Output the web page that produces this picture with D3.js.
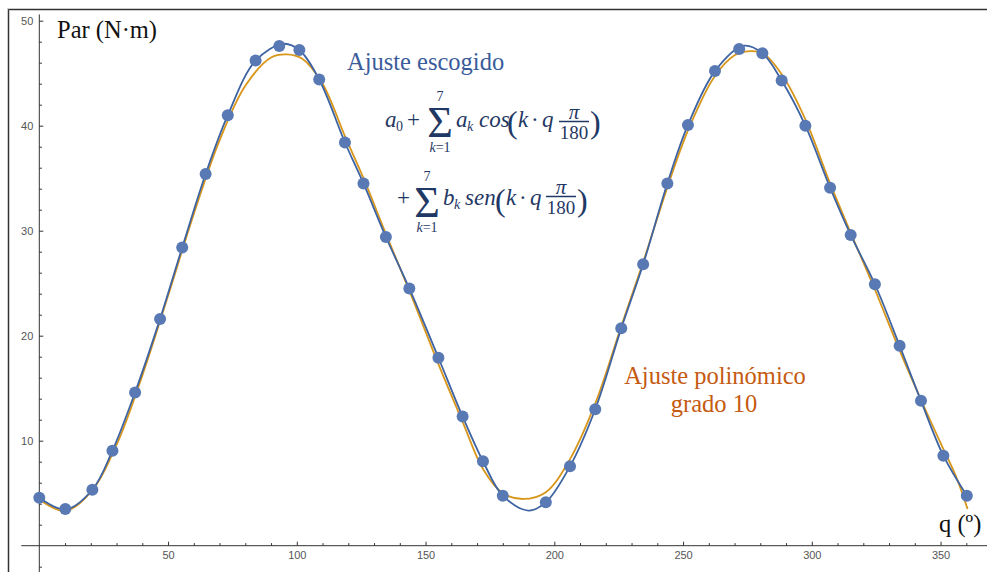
<!DOCTYPE html>
<html>
<head>
<meta charset="utf-8">
<script src="https://cdn.jsdelivr.net/npm/d3@7"></script>
<style>
  body { margin: 0; background: #fff; }
  svg { display: block; }
  .tick text { font-family: "Liberation Sans", Arial, sans-serif; font-size: 11px; fill: #555; }
  .tick line { stroke: #333; }
  .lbl { font-family: "Liberation Serif", "DejaVu Serif", serif; }
  .math { font-family: "Liberation Serif", "DejaVu Serif", serif; fill: #1f3864; }
</style>
</head>
<body>
<div class="graphHolder"></div>
<script>
let w = 987,
  h = 572;

// measured points (angle q in degrees, torque in N·m)
let qData = [0, 10.1, 20.6, 28.4, 37.2, 46.9, 55.5, 64.6, 73.2, 84.0, 93.2, 101.0, 108.7, 118.7,
  125.9, 134.6, 143.7, 155.0, 164.4, 172.3, 180.0, 196.7, 206.1, 215.9, 226.0, 234.5, 243.9,
  251.9, 262.4, 271.8, 280.8, 288.3, 297.5, 307.1, 315.1, 324.5, 334.1, 342.4, 351.1, 360.2];
let parData = [4.57, 3.5, 5.33, 9.05, 14.6, 21.6, 28.4, 35.4, 41.0, 46.2, 47.6, 47.2, 44.4, 38.4,
  34.5, 29.4, 24.5, 17.9, 12.3, 8.04, 4.76, 4.13, 7.56, 13.0, 20.7, 26.8, 34.5,
  40.07, 45.2, 47.3, 46.9, 44.3, 40.0, 34.1, 29.6, 24.9, 19.05, 13.8, 8.57, 4.76];

// fourier fit curve
let fourierQ = [0, 10.1, 20.6, 28.4, 37.2, 46.9, 55.5, 64.6, 73.2, 84.0, 94.8, 101.0, 108.7, 118.7,
  125.9, 134.6, 143.7, 155.0, 164.4, 172.3, 180.0, 189.9, 196.7, 206.1, 215.9, 226.0, 234.5, 243.9,
  251.9, 262.4, 273.4, 280.8, 288.3, 297.5, 307.1, 315.1, 324.5, 334.1, 342.4, 351.1, 360.2];
let fourierPar = [4.57, 3.45, 5.33, 9.05, 14.6, 21.6, 28.4, 35.4, 41.0, 46.2, 47.8, 47.2, 44.4, 38.4,
  34.5, 29.4, 24.5, 17.9, 12.3, 8.04, 4.76, 3.35, 4.13, 7.56, 13.0, 20.7, 26.8, 34.5,
  40.07, 45.2, 47.6, 46.9, 44.3, 40.0, 34.1, 29.6, 24.9, 19.05, 13.8, 8.57, 4.76];

// polynomial (degree 10) fit curve
let polyQ = [0, 10, 20, 30, 40, 50, 60, 70, 80, 90, 96, 102, 110, 118.7, 125.9, 134.6, 143.7,
  155, 164.4, 172.3, 180, 188, 196.7, 206, 216, 226, 234.5, 244, 252, 262, 270, 276, 281,
  288.3, 297.5, 307.1, 315.1, 324.5, 334.1, 342.4, 351.1, 356, 360.5];
let polyPar = [4.4, 3.3, 5.1, 9.6, 16.2, 23.8, 31.6, 38.6, 43.8, 46.5, 46.8, 46.4, 44.0, 39.0, 35.0, 29.7, 24.3,
  17.3, 11.8, 7.3, 5.0, 4.45, 5.1, 8.2, 13.6, 20.9, 27.0, 34.2, 39.6, 44.6, 46.7, 47.1, 46.9,
  44.9, 40.6, 34.5, 29.8, 24.4, 18.6, 13.9, 9.2, 6.6, 3.5];

let xMajor = [50, 100, 150, 200, 250, 300, 350],
  xMinor = [10, 20, 30, 40, 60, 70, 80, 90, 110, 120, 130, 140, 160, 170, 180, 190, 210, 220, 230, 240,
    260, 270, 280, 290, 310, 320, 330, 340, 360],
  yMajor = [10, 20, 30, 40, 50],
  yMinor = [-2, 2, 4, 6, 8, 12, 14, 16, 18, 22, 24, 26, 28, 32, 34, 36, 38, 42, 44, 46, 48];

let svg = d3.select(".graphHolder")
  .append("svg")
  .attr("width", w)
  .attr("height", h);

// frame
svg.append("path")
  .attr("d", "M8.5," + h + "V9.5H" + w)
  .attr("fill", "none")
  .attr("stroke", "#bbb")
  .attr("stroke-width", 2.5);
svg.append("path")
  .attr("d", "M8.5," + h + "V9.5H" + w)
  .attr("fill", "none")
  .attr("stroke", "#333")
  .attr("stroke-width", 1);

let xScale = d3.scaleLinear()
  .domain([0, 360])
  .range([39.3, 966.3]);

let yScale = d3.scaleLinear()
  .domain([0, 50])
  .range([545.7, 20.7]);

// axis lines, longer than the domain
svg.append("line")
  .attr("x1", xScale(-7)).attr("x2", w)
  .attr("y1", yScale(0)).attr("y2", yScale(0))
  .attr("stroke", "#333");
svg.append("line")
  .attr("x1", xScale(0)).attr("x2", xScale(0))
  .attr("y1", yScale(50.6)).attr("y2", h)
  .attr("stroke", "#333");

let xAxis = svg.append("g")
  .attr("transform", "translate(0," + yScale(0) + ")")
  .call(d3.axisBottom(xScale).tickValues(xMajor).tickSize(-4).tickPadding(6));
let xAxisMinor = svg.append("g")
  .attr("transform", "translate(0," + yScale(0) + ")")
  .call(d3.axisBottom(xScale).tickValues(xMinor).tickSize(-2.6).tickFormat(""));

let yAxis = svg.append("g")
  .attr("transform", "translate(" + xScale(0) + ",0)")
  .call(d3.axisLeft(yScale).tickValues(yMajor).tickSize(-4).tickPadding(6));
let yAxisMinor = svg.append("g")
  .attr("transform", "translate(" + xScale(0) + ",0)")
  .call(d3.axisLeft(yScale).tickValues(yMinor).tickSize(-2.6).tickFormat(""));

svg.selectAll(".domain").remove();

// curves
let polyLine = d3.line()
  .x((d, i) => xScale(polyQ[i]))
  .y(d => yScale(d))
  .curve(d3.curveCatmullRom.alpha(0.5));

svg.append("path")
  .attr("d", polyLine(polyPar))
  .attr("fill", "none")
  .attr("stroke", "#d8961a")
  .attr("stroke-width", 1.8);

let fourierLine = d3.line()
  .x((d, i) => xScale(fourierQ[i]))
  .y(d => yScale(d))
  .curve(d3.curveCatmullRom.alpha(0.5));

svg.append("path")
  .attr("d", fourierLine(fourierPar))
  .attr("fill", "none")
  .attr("stroke", "#3d63a2")
  .attr("stroke-width", 1.8);

svg.selectAll("circle.pt")
  .data(parData)
  .enter()
  .append("circle")
  .attr("class", "pt")
  .attr("cx", (d, i) => xScale(qData[i]))
  .attr("cy", d => yScale(d))
  .attr("r", 6)
  .attr("fill", "#5879b3");

// axis labels
svg.append("text")
  .attr("class", "lbl")
  .attr("x", 57).attr("y", 38)
  .attr("font-size", 24.5)
  .attr("fill", "#111")
  .text("Par (N·m)");

svg.append("text")
  .attr("class", "lbl")
  .attr("x", 939).attr("y", 532)
  .attr("font-size", 24.5)
  .attr("fill", "#111")
  .text("q (º)");

// annotations
svg.append("text")
  .attr("class", "lbl")
  .attr("x", 347).attr("y", 70)
  .attr("font-size", 24.5)
  .attr("fill", "#3b5c9a")
  .text("Ajuste escogido");

svg.append("text")
  .attr("class", "lbl")
  .attr("x", 715).attr("y", 384)
  .attr("text-anchor", "middle")
  .attr("font-size", 24.5)
  .attr("fill", "#c55a11")
  .text("Ajuste polinómico");
svg.append("text")
  .attr("class", "lbl")
  .attr("x", 714).attr("y", 412)
  .attr("text-anchor", "middle")
  .attr("font-size", 24.5)
  .attr("fill", "#c55a11")
  .text("grado 10");

// formula
function mathText(x, y, str, size, italic, anchor) {
  return svg.append("text")
    .attr("class", "math")
    .attr("x", x).attr("y", y)
    .attr("font-size", size)
    .attr("font-style", italic ? "italic" : "normal")
    .attr("text-anchor", anchor || "start")
    .text(str);
}

function sumBlock(cx, base) {
  mathText(cx, base, "Σ", 44, false, "middle");
  mathText(cx, base - 36, "7", 14, false, "middle");
  let t = mathText(cx, base + 15, "", 14, false, "middle");
  t.append("tspan").attr("font-style", "italic").text("k");
  t.append("tspan").text("=1");
}

function fracBlock(cx, barY) {
  mathText(cx, barY - 3, "π", 21, true, "middle");
  svg.append("line")
    .attr("x1", cx - 15).attr("x2", cx + 15)
    .attr("y1", barY).attr("y2", barY)
    .attr("stroke", "#1f3864").attr("stroke-width", 1.5);
  mathText(cx, barY + 17, "180", 19, false, "middle");
}

// line 1
mathText(385, 127, "a", 23, true);
mathText(396, 131, "0", 14, false);
mathText(407, 127, "+", 23, false);
sumBlock(440, 137);
mathText(456, 127, "a", 23, true);
mathText(467, 131, "k", 14, true);
mathText(479, 127, "cos", 23, true);
mathText(507, 133, "(", 32, false);
mathText(518, 127, "k", 23, true);
mathText(531, 127, "·", 23, false);
mathText(542, 127, "q", 23, true);
fracBlock(574, 121.5);
mathText(590, 133, ")", 32, false);

// line 2
mathText(397, 205, "+", 23, false);
sumBlock(427, 217);
mathText(443, 205, "b", 23, true);
mathText(454, 209, "k", 14, true);
mathText(465, 205, "sen", 23, true);
mathText(495, 211, "(", 32, false);
mathText(506, 205, "k", 23, true);
mathText(519, 205, "·", 23, false);
mathText(530, 205, "q", 23, true);
fracBlock(561, 196.5);
mathText(577, 211, ")", 32, false);
</script>
</body>
</html>
